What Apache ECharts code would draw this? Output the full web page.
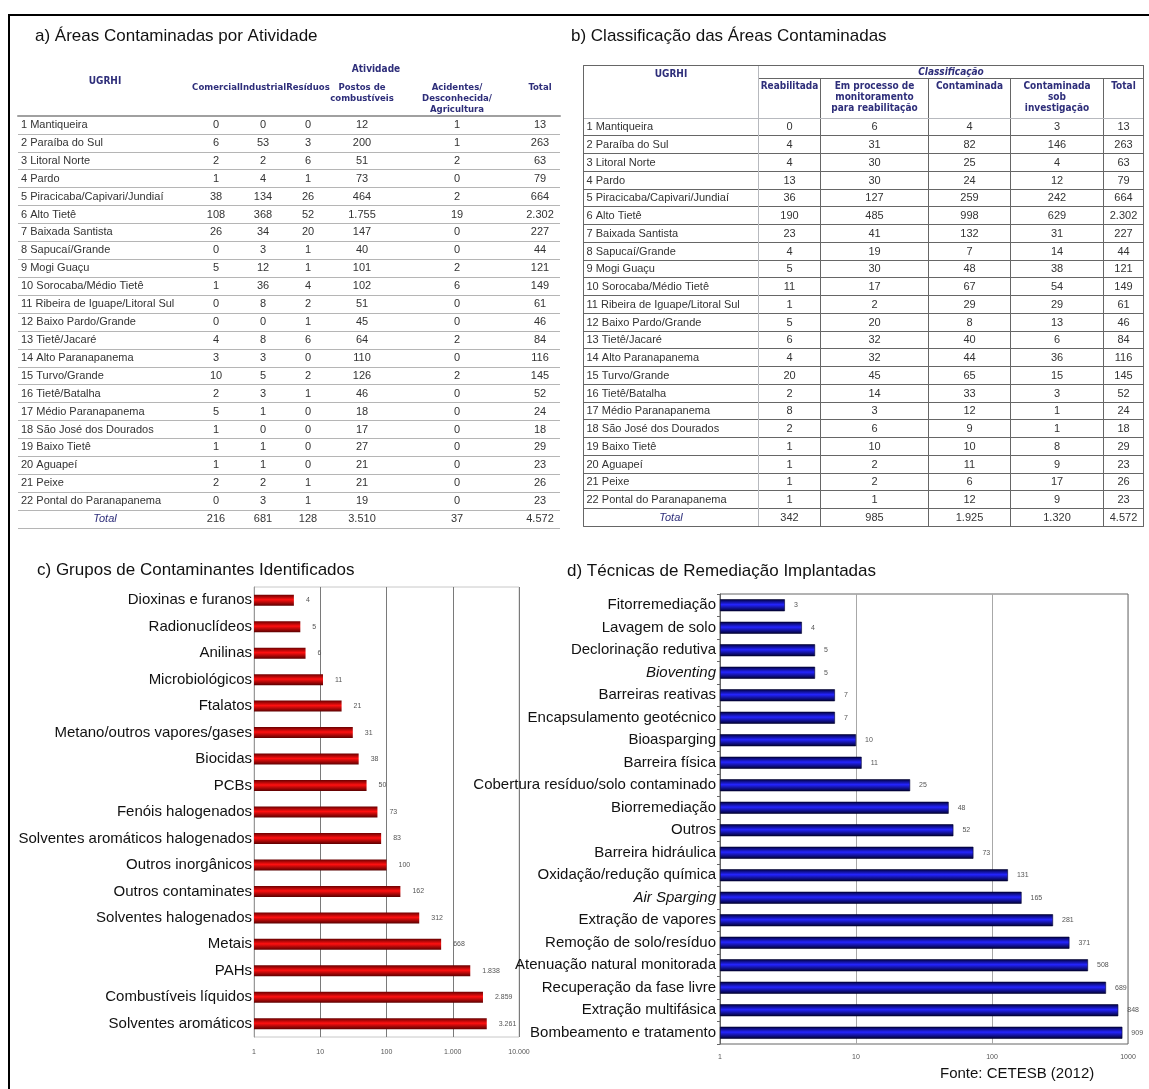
<!DOCTYPE html>
<html>
<head>
<meta charset="utf-8">
<script src="https://cdn.jsdelivr.net/npm/echarts@6/dist/echarts.min.js"></script>
<style>
html, body { margin: 0; padding: 0; background: #fff; }
#main { width: 1149px; height: 1089px; }
</style>
</head>
<body>
<div id="main"></div>
<script>
// --- dados ---
var ugrhi = ['1 Mantiqueira', '2 Paraíba do Sul', '3 Litoral Norte', '4 Pardo', '5 Piracicaba/Capivari/Jundiaí',
  '6 Alto Tietê', '7 Baixada Santista', '8 Sapucaí/Grande', '9 Mogi Guaçu', '10 Sorocaba/Médio Tietê',
  '11 Ribeira de Iguape/Litoral Sul', '12 Baixo Pardo/Grande', '13 Tietê/Jacaré', '14 Alto Paranapanema',
  '15 Turvo/Grande', '16 Tietê/Batalha', '17 Médio Paranapanema', '18 São José dos Dourados', '19 Baixo Tietê',
  '20 Aguapeí', '21 Peixe', '22 Pontal do Paranapanema'];

// a) por atividade
var colsA = ['Comercial', 'Industrial', 'Resíduos', 'Postos de\ncombustíveis', 'Acidentes/\nDesconhecida/\nAgricultura', 'Total'];
var comercial  = [0, 6, 2, 1, 38, 108, 26, 0, 5, 1, 0, 0, 4, 3, 10, 2, 5, 1, 1, 1, 2, 0];
var industrial = [0, 53, 2, 4, 134, 368, 34, 3, 12, 36, 8, 0, 8, 3, 5, 3, 1, 0, 1, 1, 2, 3];
var residuos   = [0, 3, 6, 1, 26, 52, 20, 1, 1, 4, 2, 1, 6, 0, 2, 1, 0, 0, 0, 0, 1, 1];
var postos     = [12, 200, 51, 73, 464, 1755, 147, 40, 101, 102, 51, 45, 64, 110, 126, 46, 18, 17, 27, 21, 21, 19];
var acidentes  = [1, 1, 2, 0, 2, 19, 0, 0, 2, 6, 0, 0, 2, 0, 2, 0, 0, 0, 0, 0, 0, 0];
var totalA     = [13, 263, 63, 79, 664, 2302, 227, 44, 121, 149, 61, 46, 84, 116, 145, 52, 24, 18, 29, 23, 26, 23];
var somaA      = [216, 681, 128, 3510, 37, 4572];

// b) classificacao
var colsB = ['Reabilitada', 'Em processo de\nmonitoramento\npara reabilitação', 'Contaminada', 'Contaminada\nsob\ninvestigação', 'Total'];
var reabilitada   = [0, 4, 4, 13, 36, 190, 23, 4, 5, 11, 1, 5, 6, 4, 20, 2, 8, 2, 1, 1, 1, 1];
var monitoramento = [6, 31, 30, 30, 127, 485, 41, 19, 30, 17, 2, 20, 32, 32, 45, 14, 3, 6, 10, 2, 2, 1];
var contaminada   = [4, 82, 25, 24, 259, 998, 132, 7, 48, 67, 29, 8, 40, 44, 65, 33, 12, 9, 10, 11, 6, 12];
var investigacao  = [3, 146, 4, 12, 242, 629, 31, 14, 38, 54, 29, 13, 6, 36, 15, 3, 1, 1, 8, 9, 17, 9];
var totalB        = [13, 263, 63, 79, 664, 2302, 227, 44, 121, 149, 61, 46, 84, 116, 145, 52, 24, 18, 29, 23, 26, 23];
var somaB         = [342, 985, 1925, 1320, 4572];

// c) contaminantes
var contaminantes = ['Dioxinas e furanos', 'Radionuclídeos', 'Anilinas', 'Microbiológicos', 'Ftalatos',
  'Metano/outros vapores/gases', 'Biocidas', 'PCBs', 'Fenóis halogenados', 'Solventes aromáticos halogenados',
  'Outros inorgânicos', 'Outros contaminates', 'Solventes halogenados', 'Metais', 'PAHs',
  'Combustíveis líquidos', 'Solventes aromáticos'];
var contaminantesVal = [4, 5, 6, 11, 21, 31, 38, 50, 73, 83, 100, 162, 312, 668, 1838, 2859, 3261];

// d) tecnicas
var tecnicas = ['Fitorremediação', 'Lavagem de solo', 'Declorinação redutiva', 'Bioventing', 'Barreiras reativas',
  'Encapsulamento geotécnico', 'Bioasparging', 'Barreira física', 'Cobertura resíduo/solo contaminado',
  'Biorremediação', 'Outros', 'Barreira hidráulica', 'Oxidação/redução química', 'Air Sparging',
  'Extração de vapores', 'Remoção de solo/resíduo', 'Atenuação natural monitorada',
  'Recuperação da fase livre', 'Extração multifásica', 'Bombeamento e tratamento'];
var tecnicasVal = [3, 4, 5, 5, 7, 7, 10, 11, 25, 48, 52, 73, 131, 165, 281, 371, 508, 689, 848, 909];
var tecnicasItalico = ['Bioventing', 'Air Sparging'];

function fmt(v) {
  return String(v).replace(/\B(?=(\d{3})+(?!\d))/g, '.');
}

function cells(cols, somas) {
  var out = [];
  cols.forEach(function (col, i) {
    col.concat([somas[i]]).forEach(function (v, j) {
      out.push({ coord: [i, j], value: fmt(v) });
    });
  });
  return out;
}

var linhas = ugrhi.concat([{ value: 'Total', label: { fontStyle: 'italic', color: '#2e2e7a', align: 'center', position: 'inside' } }]);

var myChart = echarts.init(document.getElementById('main'));

var headFont = {
  fontFamily: 'Liberation Sans Narrow, DejaVu Sans Condensed, Liberation Sans', fontWeight: 'bold', fontSize: 10,
  color: '#2e2e7a', overflow: 'none', lineOverflow: 'none', lineHeight: 11, padding: [2, 0, 0, 0]
};
var bodyFont = { fontFamily: 'Liberation Sans', fontSize: 11, color: '#333', overflow: 'none' };
var leftFont = Object.assign({ align: 'left', position: 'insideLeft' }, bodyFont);
var topFont = Object.assign({ position: 'insideTop' }, headFont);
var topFontA = Object.assign({}, topFont, { fontSize: 9.5, padding: [6, 0, 0, 0] });
var parentFont = Object.assign({}, headFont, { position: 'inside', padding: 0, lineHeight: 12 });
var wA = [48, 46, 44, 64, 126, 40];
var wB = [62, 108, 82, 93, 40];
var none = { borderWidth: 0 };
var hide = { color: 'rgba(0,0,0,0)', width: 0 };
var lineB = { borderColor: '#666', borderWidth: 1 };

var redBar = new echarts.graphic.LinearGradient(0, 0, 0, 1, [
  { offset: 0, color: '#6a0000' }, { offset: 0.45, color: '#ff1010' }, { offset: 1, color: '#5a0000' }
]);
var blueBar = new echarts.graphic.LinearGradient(0, 0, 0, 1, [
  { offset: 0, color: '#00003a' }, { offset: 0.45, color: '#2424ff' }, { offset: 1, color: '#00002e' }
]);

option = {
  title: [
    { text: 'a) Áreas Contaminadas por Atividade', left: 35, top: 28 },
    { text: 'b) Classificação das Áreas Contaminadas', left: 571, top: 28 },
    { text: 'c) Grupos de Contaminantes Identificados', left: 37, top: 562 },
    { text: 'd) Técnicas de Remediação Implantadas', left: 567, top: 563 },
    { text: 'Fonte: CETESB (2012)', left: 940, top: 1066, textStyle: { fontSize: 15, fontWeight: 'normal', fontFamily: 'Liberation Sans', color: '#111' } }
  ].map(function (t) {
    t.padding = 0;
    t.textStyle = t.textStyle || { fontSize: 17, fontWeight: 'normal', fontFamily: 'Liberation Sans', color: '#111' };
    return t;
  }),
  graphic: [{
    type: 'rect', z: -10,
    shape: { x: 9, y: 15, width: 1200, height: 1200 },
    style: { fill: 'none', stroke: '#000', lineWidth: 2 }
  }],
  matrix: [{
    left: 18, top: 62, width: 542, height: 466,
    backgroundStyle: none,
    x: {
      data: [{ value: 'Atividade', label: parentFont, children: colsA.map(function (c, i) { return { value: c, size: wA[i] }; }) }],
      levelSize: 40,
      levels: [{ levelSize: 14, label: parentFont }, { levelSize: 40 }],
      label: topFontA,
      itemStyle: none,
      dividerLineStyle: hide
    },
    y: { data: linhas, levelSize: 174, label: leftFont, itemStyle: none, dividerLineStyle: hide },
    corner: {
      data: [{ coord: [-1, [-2, -1]], mergeCells: true, value: 'UGRHI' }],
      label: Object.assign({}, headFont, { position: 'insideTop', padding: [14, 0, 0, 0] }),
      itemStyle: none
    },
    body: {
      data: cells([comercial, industrial, residuos, postos, acidentes, totalA], somaA),
      label: bodyFont,
      itemStyle: none
    }
  }, {
    left: 583, top: 65, width: 560, height: 461,
    backgroundStyle: lineB,
    x: {
      data: [{ value: 'Classificação', label: Object.assign({ fontStyle: 'italic' }, parentFont), children: colsB.map(function (c, i) { return { value: c, size: wB[i] }; }) }],
      levelSize: 40,
      levels: [{ levelSize: 13, label: parentFont }, { levelSize: 40 }],
      label: topFont,
      itemStyle: lineB
    },
    y: { data: linhas, levelSize: 175, label: leftFont, itemStyle: lineB },
    corner: {
      data: [{ coord: [-1, [-2, -1]], mergeCells: true, value: 'UGRHI' }],
      label: Object.assign({}, headFont, { position: 'insideTop', padding: [3, 0, 0, 0] }),
      itemStyle: lineB
    },
    body: {
      data: cells([reabilitada, monitoramento, contaminada, investigacao, totalB], somaB),
      label: bodyFont,
      itemStyle: lineB
    }
  }],
  grid: [
    { left: 254, top: 587, width: 265, height: 450, show: true, borderColor: '#c8c8c8', borderWidth: 1 },
    { left: 720, top: 594, width: 408, height: 450, show: true, borderColor: '#666', borderWidth: 1 },
    // linhas horizontais da tabela a
    { left: 18, top: 116, width: 542, height: 412 },
    { left: 18, top: 62, width: 542, height: 54 }
  ],
  xAxis: [{
    gridIndex: 0, type: 'log', logBase: 10, min: 1, max: 10000,
    axisLine: { show: false }, axisTick: { show: false },
    splitLine: { show: true, lineStyle: { color: '#7a7a7a' } },
    axisLabel: { fontSize: 7, color: '#555', margin: 12, formatter: function (v) { return fmt(v); } }
  }, {
    gridIndex: 1, type: 'log', logBase: 10, min: 1, max: 1000,
    axisLine: { show: false }, axisTick: { show: false },
    splitLine: { show: true, lineStyle: { color: '#a8a8a8' } },
    axisLabel: { fontSize: 7, color: '#555', margin: 10, formatter: function (v) { return String(v); } }
  }, {
    gridIndex: 2, type: 'value', show: false
  }, {
    gridIndex: 3, type: 'value', position: 'top',
    axisLine: { lineStyle: { color: '#a0a0a0', width: 2 } },
    axisTick: { show: false }, axisLabel: { show: false }, splitLine: { show: false }
  }],
  yAxis: [{
    gridIndex: 0, type: 'category', inverse: true, data: contaminantes,
    axisLine: { lineStyle: { color: '#999' } }, axisTick: { show: false },
    axisLabel: { fontSize: 15, color: '#111', margin: 2, fontFamily: 'Liberation Sans' }
  }, {
    gridIndex: 1, type: 'category', inverse: true,
    data: tecnicas.map(function (t) {
      return tecnicasItalico.indexOf(t) >= 0 ? { value: t, textStyle: { fontStyle: 'italic' } } : t;
    }),
    axisLine: { lineStyle: { color: '#666' } },
    axisTick: { show: true, length: 3, lineStyle: { color: '#666' } },
    axisLabel: { fontSize: 15, color: '#111', margin: 4, fontFamily: 'Liberation Sans' }
  }, {
    gridIndex: 2, type: 'category', inverse: true, data: linhas.map(function (l) { return l.value || l; }),
    axisLine: { show: false }, axisTick: { show: false }, axisLabel: { show: false },
    splitLine: { show: true, interval: 0, lineStyle: { color: '#b5b5b5' } }
  }, {
    gridIndex: 3, type: 'value', show: false
  }],
  series: [{
    type: 'bar', xAxisIndex: 0, yAxisIndex: 0, data: contaminantesVal, barWidth: 11,
    itemStyle: { color: redBar },
    label: { show: true, position: 'right', distance: 12, fontSize: 7, color: '#555', formatter: function (p) { return fmt(p.value); } }
  }, {
    type: 'bar', xAxisIndex: 1, yAxisIndex: 1, data: tecnicasVal, barWidth: 12,
    itemStyle: { color: blueBar, borderColor: '#000030', borderWidth: 0.6 },
    label: { show: true, position: 'right', distance: 9, fontSize: 7, color: '#555' }
  }]
};
myChart.setOption(option);
</script>
</body>
</html>
